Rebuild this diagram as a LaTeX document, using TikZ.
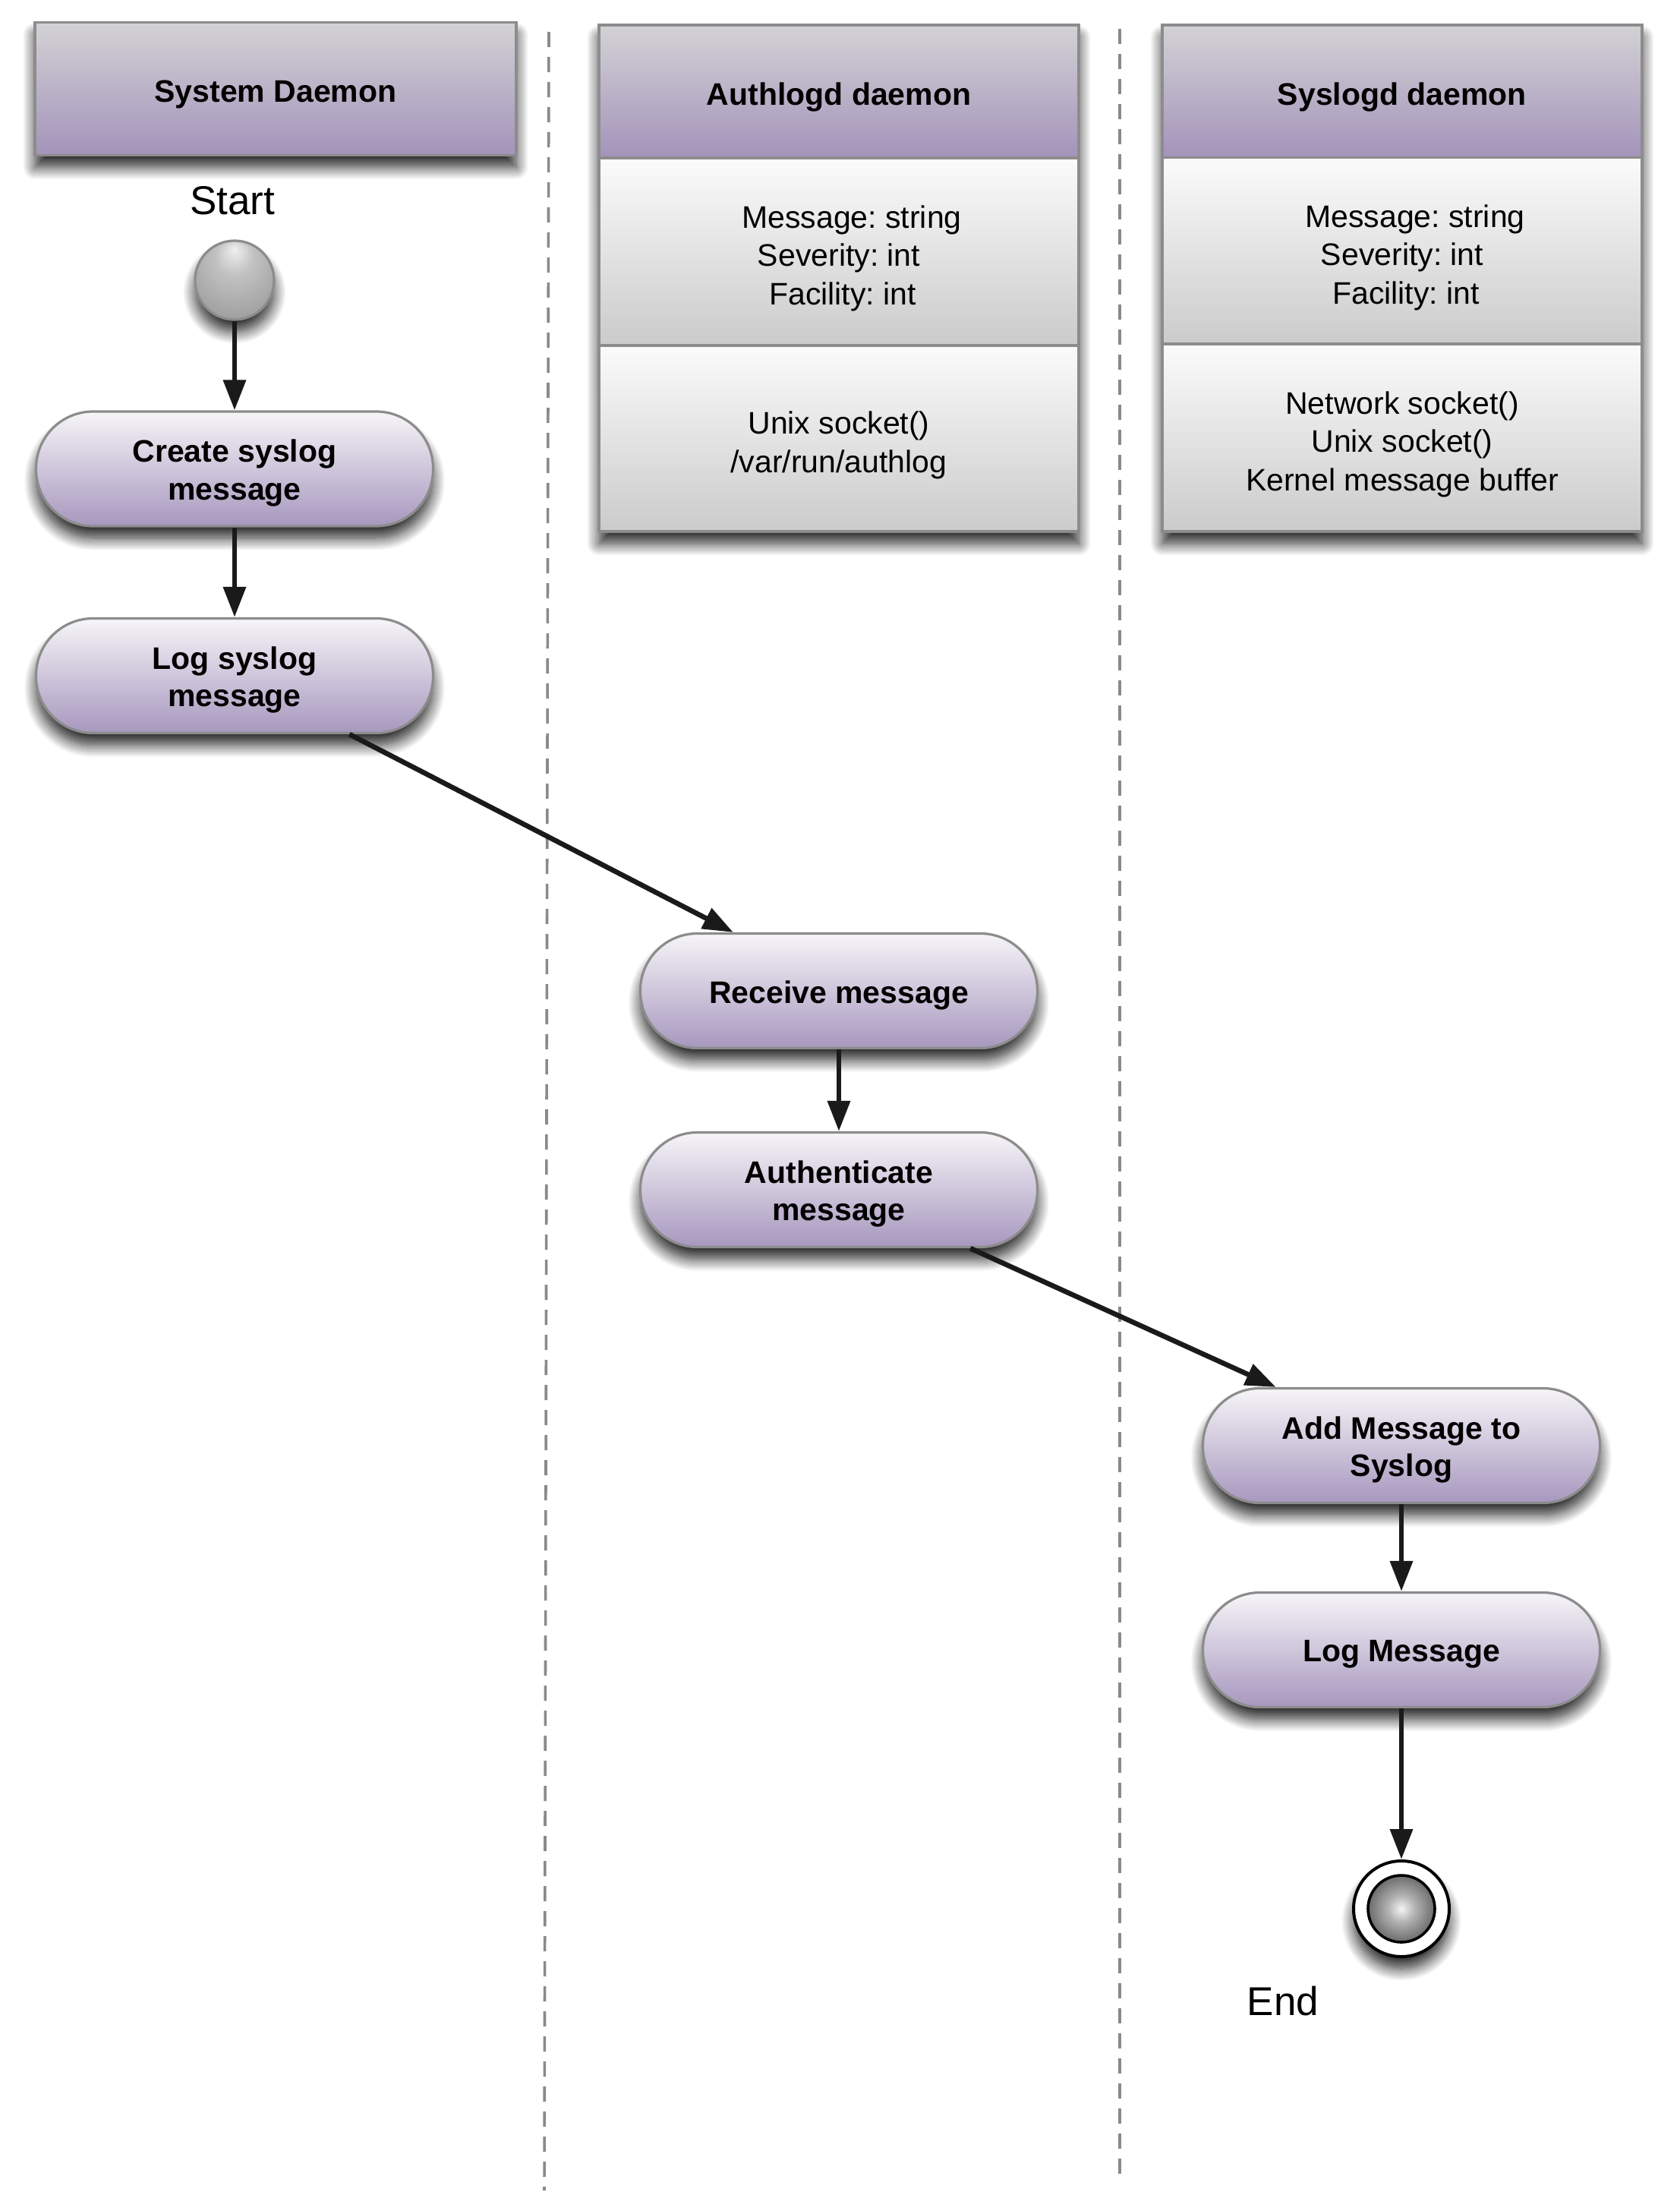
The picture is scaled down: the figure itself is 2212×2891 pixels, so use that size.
\documentclass[tikz,border=0pt]{standalone}
\usepackage{fontspec}
\setmainfont{Liberation Sans}
\usetikzlibrary{arrows.meta,shadows.blur}
\frenchspacing

% palette
\definecolor{hdrtop}{HTML}{D3D2D5}
\definecolor{hdrbot}{HTML}{A393BA}
\definecolor{pilltop}{HTML}{F6F5F8}
\definecolor{pillbot}{HTML}{A797BE}
\definecolor{cmptop}{HTML}{FBFBFB}
\definecolor{cmpbot}{HTML}{CBCBCB}
\definecolor{boxline}{HTML}{8C8C8C}
\definecolor{arrowblack}{HTML}{1A1A1A}
\definecolor{lanegray}{HTML}{8A8A8A}

% text styles
\newcommand{\actfont}{\bfseries\fontsize{20.5}{24.9}\selectfont}
\newcommand{\attrfont}{\fontsize{20.5}{25.2}\selectfont}
\newcommand{\termfont}{\fontsize{26.5}{30}\selectfont}

% shaded balls for the initial and final states
\pgfdeclareradialshading{startball}{\pgfpoint{0bp}{20bp}}{%
  color(0bp)=(white!94!black); color(12bp)=(black!24); color(30bp)=(black!36); color(42bp)=(black!48); color(50bp)=(black!50)}
\pgfdeclareradialshading{endball}{\pgfpoint{0bp}{0bp}}{%
  color(0bp)=(white!96!black); color(10bp)=(black!30); color(25bp)=(black!58); color(50bp)=(black!62)}

\tikzset{
  edgegray/.style={draw=boxline, line width=1.8pt},
  softshadow/.style={blur shadow={shadow xshift=0pt, shadow yshift=-8pt,
      shadow blur radius=8pt, shadow blur steps=16, shadow opacity=85}},
  header/.style={rectangle, edgegray, top color=hdrtop, bottom color=hdrbot,
      minimum width=316pt, minimum height=87.5pt, inner sep=0pt},
  compart/.style={rectangle, edgegray, top color=cmptop, bottom color=cmpbot,
      minimum width=316pt, minimum height=123pt, inner sep=0pt},
  frame/.style={rectangle, fill=white, minimum width=316pt, minimum height=333.5pt,
      inner sep=0pt, softshadow},
  activity/.style={rectangle, rounded corners=37.5pt, draw=boxline, line width=1.6pt,
      top color=pilltop, bottom color=pillbot, minimum width=261.5pt,
      minimum height=75.5pt, inner sep=0pt, softshadow},
  acttext/.style={inner sep=0pt, align=center, font=\actfont, yshift=-2.75pt},
  hdrtext/.style={inner sep=0pt, align=center, font=\actfont, yshift=-3.7pt},
  attrtext/.style={inner sep=0pt, align=center, font=\attrfont, yshift=-4.4pt},
  flow/.style={draw=arrowblack, line width=3.3pt, -{Triangle[length=20pt,width=14.5pt]}},
  lane/.style={draw=lanegray, line width=1.8pt, dash pattern=on 10pt off 6.5pt},
  termlabel/.style={font=\termfont, inner sep=0pt},
}

\begin{document}
\begin{tikzpicture}[x=0.5pt,y=-0.5pt]
\useasboundingbox (0,0) rectangle (2212,2891);

% swimlane separators
\coordinate (laneAtop) at (723,42);
\coordinate (laneAbot) at (717,2885);
\coordinate (laneBtop) at (1475,38);
\coordinate (laneBbot) at (1475,2875);
\draw[lane] (laneAtop) -- (laneAbot);
\draw[lane] (laneBtop) -- (laneBbot);

% lane headers
\node[header, minimum width=317pt, softshadow] (sysd) at (363,117) {};
\node[hdrtext] (sysdtxt) at (sysd.center) {System Daemon};

\node[frame] (authframe) at (1105,366.5) {};
\node[header] (authhdr) at (1105,120.5) {};
\node[compart, minimum height=123.5pt] (authattr) at (1105,331.5) {};
\node[compart, minimum height=122.5pt] (authops) at (1105,577.5) {};
\node[hdrtext] (authhdrtxt) at (authhdr.center) {Authlogd daemon};
\node[attrtext] (authattrtxt) at (authattr.center)
  {\hspace*{17pt}Message: string\\Severity: int\\\hspace*{5pt}Facility: int};
\node[attrtext] (authopstxt) at (authops.center) {Unix socket()\\/var/run/authlog};

\node[frame] (sysframe) at (1847,366.5) {};
\node[header] (syshdr) at (1847,120.5) {};
\node[compart] (sysattr) at (1847,330.5) {};
\node[compart, minimum height=123.5pt] (sysops) at (1847,576.5) {};
\node[hdrtext] (syshdrtxt) at (syshdr.center) {Syslogd daemon};
\node[attrtext] (sysattrtxt) at (sysattr.center)
  {\hspace*{17pt}Message: string\\Severity: int\\\hspace*{5pt}Facility: int};
\node[attrtext] (sysopstxt) at (sysops.center)
  {Network socket()\\Unix socket()\\Kernel message buffer};

% initial state
\node[termlabel] (startlbl) at (306,264) {Start};
\node[circle, minimum size=52pt, inner sep=0pt, draw=boxline, line width=1.6pt,
      shading=startball, softshadow] (start) at (309,369) {};

% System Daemon activities
\node[activity] (create) at (309,617.5) {};
\node[acttext] (createtxt) at (create.center) {Create syslog\\message};
\node[activity] (logsys) at (309,890) {};
\node[acttext] (logsystxt) at (logsys.center) {Log syslog\\message};

% Authlogd activities
\node[activity] (recv) at (1105,1305) {};
\node[acttext] (recvtxt) at (recv.center) {Receive message};
\node[activity] (auth) at (1105,1567) {};
\node[acttext] (authtxt) at (auth.center) {Authenticate\\message};

% Syslogd activities
\node[activity] (addmsg) at (1846,1904) {};
\node[acttext] (addmsgtxt) at (addmsg.center) {Add Message to\\Syslog};
\node[activity] (logmsg) at (1846,2173) {};
\node[acttext] (logmsgtxt) at (logmsg.center) {Log Message};

% final state
\node[circle, minimum size=63pt, inner sep=0pt, fill=white, draw=black,
      line width=2pt, softshadow] (endring) at (1846,2514) {};
\node[circle, minimum size=44pt, inner sep=0pt, draw=black, line width=1.8pt,
      shading=endball] (endcore) at (endring.center) {};
\node[termlabel] (endlbl) at (1690,2636) {End};

% control flow
\draw[flow] (start) -- (create);
\draw[flow] (create) -- (logsys);
\draw[flow] (logsys.-27) -- (recv.151);
\draw[flow] (recv) -- (auth);
\draw[flow] (auth.-24) -- (addmsg.155);
\draw[flow] (addmsg) -- (logmsg);
\draw[flow] (logmsg) -- (endring);
\end{tikzpicture}
\end{document}
